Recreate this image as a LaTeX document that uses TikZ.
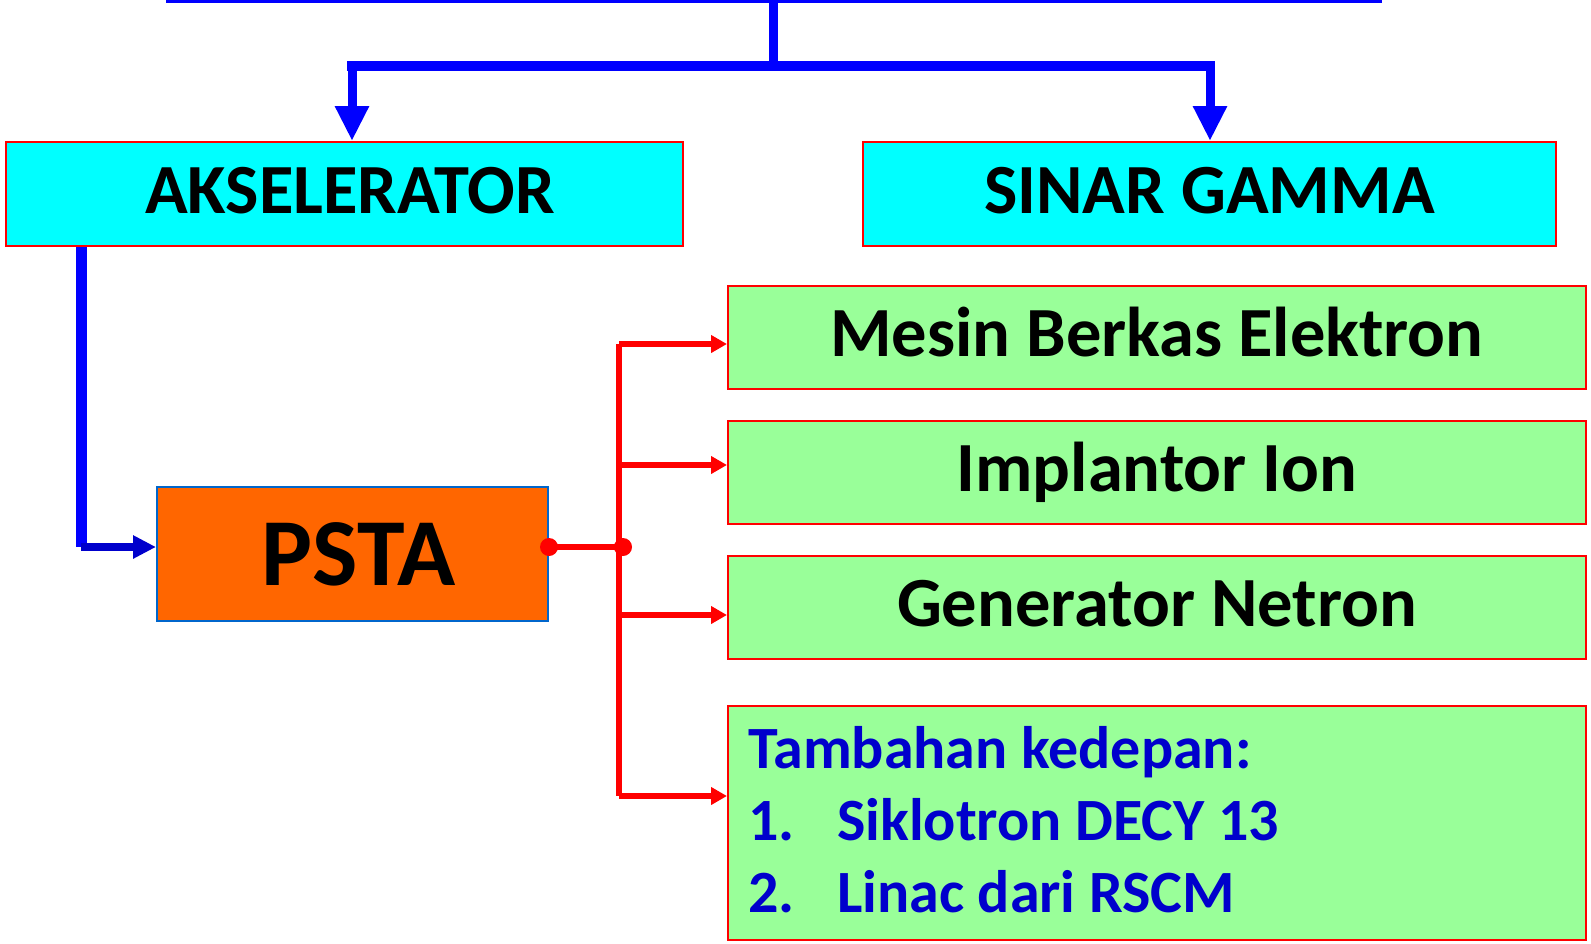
\documentclass[tikz,border=0pt]{standalone}
\usepackage{fontspec}
\setmainfont{Carlito}
\usetikzlibrary{arrows.meta,calc}
\definecolor{pureblue}{HTML}{0000FF}
\definecolor{darkblue}{HTML}{0000CC}
\definecolor{boxcyan}{HTML}{00FFFF}
\definecolor{boxgreen}{HTML}{99FF99}
\definecolor{boxorange}{HTML}{FF6600}
\definecolor{edgeblue}{HTML}{0066CC}
\definecolor{pured}{HTML}{FF0000}

\begin{document}
\begin{tikzpicture}[x=1pt,y=-1pt,
  bigfont/.style={font=\fontsize{70.5}{76}\selectfont\bfseries, text height=45pt, text depth=7pt},
  headbox/.style={draw=pured, fill=boxcyan, line width=2pt, inner sep=0pt,
    minimum height=104pt, bigfont},
  itembox/.style={draw=pured, fill=boxgreen, line width=2pt, inner sep=0pt,
    minimum width=858pt, minimum height=103pt, bigfont},
  hubbox/.style={draw=edgeblue, fill=boxorange, line width=2pt, inner sep=0pt,
    minimum width=391pt, minimum height=134pt,
    font=\fontsize{96}{100}\selectfont\bfseries, text height=62pt, text depth=0pt},
  listtext/.style={anchor=north west, inner sep=0pt, align=left, text=darkblue,
    font=\fontsize{60}{72}\selectfont\bfseries},
  topline/.style={draw=pureblue, line width=3pt},
  stem/.style={draw=pureblue, line width=9pt},
  bar/.style={draw=pureblue, line width=10pt, line cap=rect},
  downarrow/.style={stem, -{Triangle[length=35pt, width=32pt]}},
  feedline/.style={draw=pureblue, line width=11pt},
  feedarrow/.style={draw=darkblue, line width=8pt, -{Triangle[length=23pt, width=22pt]}},
  redline/.style={draw=pured, line width=6pt},
  redarrow/.style={redline, -{Triangle[length=16pt, width=17pt]}},
  joint/.style={fill=pured, draw=none}
]
\useasboundingbox (0,0) rectangle (1591,943);

% boxes (the two left labels sit a little right of centre)
\node[headbox, minimum width=677pt] (aks) at (344.5,194) {\hspace*{11pt}AKSELERATOR};
\node[headbox, minimum width=693pt] (sg) at (1209.5,194) {SINAR GAMMA};
\node[hubbox] (psta) at (352.5,554) {\hspace*{12pt}PSTA};
\node[itembox] (mesin) at (1157,337.5) {Mesin Berkas Elektron};
\node[itembox] (impl) at (1157,472.5) {Implantor Ion};
\node[itembox] (gen) at (1157,607.5) {Generator Netron};
\node[itembox, minimum height=234pt] (fut) at (1157,823) {};
\node[listtext] (futlist) at (748,721)
  {\rule{0pt}{47pt}Tambahan kedepan:\\
   \makebox[89pt][l]{1.}Siklotron DECY 13\\
   \makebox[89pt][l]{2.}Linac dari RSCM};

% blue tree from the top
\coordinate (tl) at (166,1.5);
\coordinate (tr) at (1382,1.5);
\coordinate (tm) at (773,1.5);
\coordinate (split) at (773,66);
\coordinate (al) at (352,66);
\coordinate (ar) at (1210,66);
\draw[topline] (tl) -- (tr);
\draw[stem] (tm) -- (split);
\draw[bar] (al) -- (ar);
\draw[downarrow] (al) -- (al |- aks.north);
\draw[downarrow] (ar) -- (ar |- sg.north);

% akselerator feeds PSTA
\coordinate (corner) at (81,547);
\draw[feedline] (corner |- aks.south) -- (corner);
\draw[feedarrow] (corner) -- (corner -| psta.west);

% PSTA branches
\coordinate (hub) at (623,547);
\coordinate (pout) at (psta.east |- hub);
\coordinate (t1) at (619,344);
\coordinate (t2) at (619,465);
\coordinate (t3) at (619,615);
\coordinate (t4) at (619,796);
\draw[redline] (pout) -- (hub);
\draw[redline] (t1) -- (t4);
\draw[redarrow] (t1) -- (t1 -| mesin.west);
\draw[redarrow] (t2) -- (t2 -| impl.west);
\draw[redarrow] (t3) -- (t3 -| gen.west);
\draw[redarrow] (t4) -- (t4 -| fut.west);
\fill[joint] (pout) circle (9pt);
\fill[joint] (hub) circle (9pt);
\end{tikzpicture}
\end{document}
